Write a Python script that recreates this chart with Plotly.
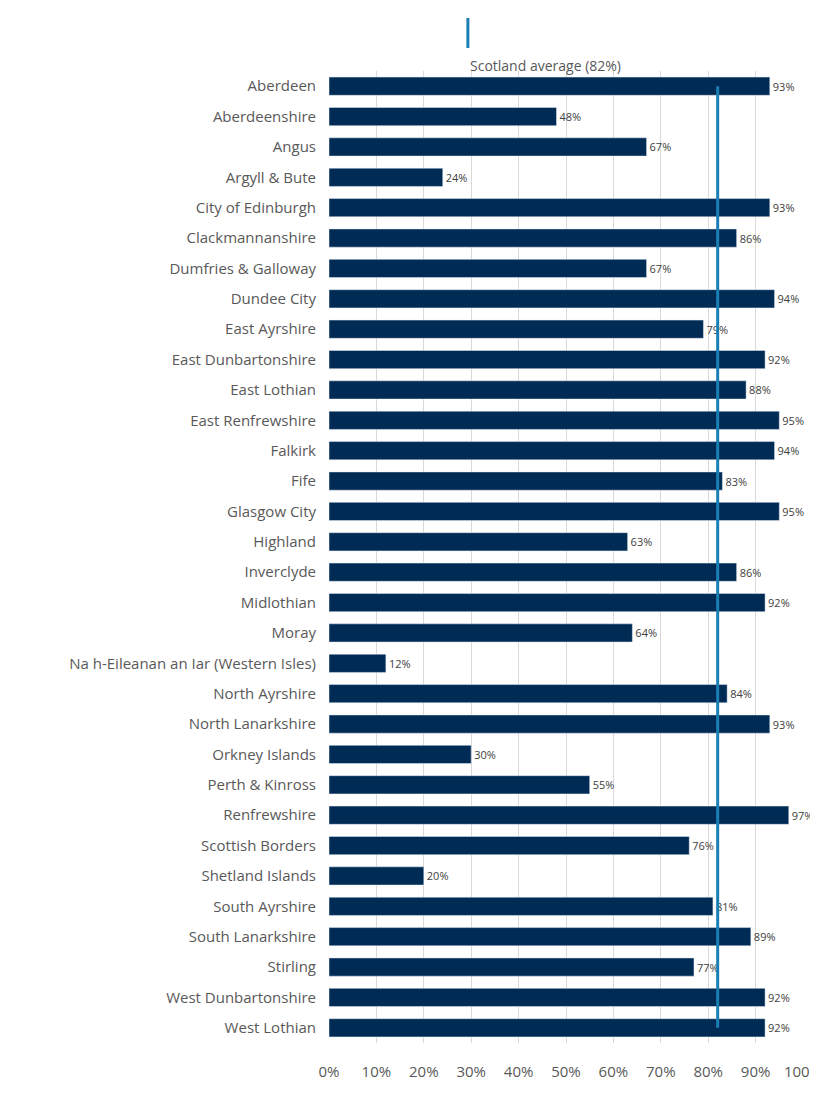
import plotly.graph_objects as go

areas = ["Aberdeen", "Aberdeenshire", "Angus", "Argyll & Bute", "City of Edinburgh",
         "Clackmannanshire", "Dumfries & Galloway", "Dundee City", "East Ayrshire",
         "East Dunbartonshire", "East Lothian", "East Renfrewshire", "Falkirk", "Fife",
         "Glasgow City", "Highland", "Inverclyde", "Midlothian", "Moray",
         "Na h-Eileanan an Iar (Western Isles)", "North Ayrshire", "North Lanarkshire",
         "Orkney Islands", "Perth & Kinross", "Renfrewshire", "Scottish Borders",
         "Shetland Islands", "South Ayrshire", "South Lanarkshire", "Stirling",
         "West Dunbartonshire", "West Lothian"]
values = [93, 48, 67, 24, 93, 86, 67, 94, 79, 92, 88, 95, 94, 83, 95, 63, 86, 92, 64,
          12, 84, 93, 30, 55, 97, 76, 20, 81, 89, 77, 92, 92]
scotland_avg = 82
x_ticks = list(range(0, 101, 10))

fig = go.Figure()
fig.add_trace(go.Bar(
    x=values, y=areas, orientation="h", width=0.6,
    marker_color="#002b54",
    text=[f"{v}%" for v in values], textposition="outside",
    textfont=dict(size=11, color="#404040"),
    cliponaxis=False, showlegend=False,
))
fig.add_trace(go.Scatter(
    x=[scotland_avg, scotland_avg], y=[areas[0], areas[-1]], mode="lines",
    line=dict(color="#1a7fb5", width=3), showlegend=False, hoverinfo="skip",
))

# legend-like marker for the average line, above the plot area
fig.add_shape(type="line", xref="paper", yref="paper", x0=0.293, x1=0.293,
              y0=1.0545, y1=1.0237, line=dict(color="#1a7fb5", width=3))
fig.add_annotation(xref="paper", yref="paper", x=0.293, y=1.018, yanchor="top",
                   text=f"Scotland average ({scotland_avg}%)", showarrow=False,
                   font=dict(size=14, color="#595959"))

fig.update_layout(
    width=818, height=1094,
    margin=dict(l=321, r=23, t=63, b=59),
    plot_bgcolor="white", paper_bgcolor="white",
    font=dict(family="Open Sans, sans-serif", color="#595959"),
    bargap=0.4,
)
fig.update_xaxes(range=[0, 100], tickvals=x_ticks,
                 ticktext=[f"{t}%" for t in x_ticks],
                 tickfont=dict(size=15), showgrid=True, gridcolor="#d9d9d9",
                 zeroline=False, ticks="", ticklabelstandoff=18, automargin=False)
fig.update_yaxes(range=[len(areas) - 0.5, -0.5], tickfont=dict(size=15), ticks="",
                 ticklabelstandoff=12, showline=False, automargin=False)

fig.write_html("out.html")
